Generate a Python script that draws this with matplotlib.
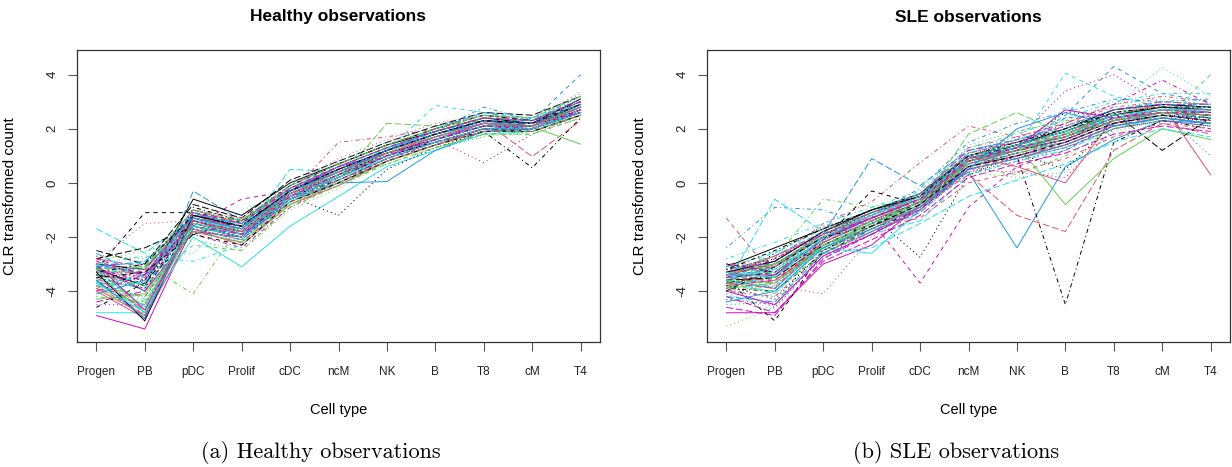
#!/usr/bin/env python3
"""
Parallel line plots (matplot style) of CLR transformed cell type counts,
healthy vs SLE observations.
"""

import matplotlib
matplotlib.use("Agg")
import matplotlib.pyplot as plt

CELL_TYPES = ["Progen", "PB", "pDC", "Prolif", "cDC", "ncM", "NK", "B", "T8", "cM", "T4"]

# one row per observation, values in CELL_TYPES order
HEALTHY = [
    [-3.0, -3.2, -1.2, -1.6, -0.3, 0.4, 1.2, 1.8, 2.3, 2.1, 2.9],
    [-3.6, -4.9, -1.0, -1.5, -0.5, 0.2, 1.0, 1.6, 2.1, 2.0, 2.7],
    [-2.7, -2.8, -1.5, -1.9, -0.6, 0.3, 1.1, 1.7, 2.2, 2.2, 3.0],
    [-3.9, -3.3, -1.8, -2.2, -0.2, 0.6, 1.3, 1.9, 2.4, 2.3, 3.1],
    [-1.7, -2.6, -1.3, -1.9, 0.5, 0.4, 1.0, 1.5, 2.0, 1.9, 2.6],
    [-4.9, -5.4, -1.6, -2.0, -0.7, 0.0, 0.8, 1.4, 1.9, 2.0, 2.6],
    [-3.2, -1.1, -1.1, -1.4, -0.1, 0.7, 1.4, 2.0, 2.5, 2.3, 2.9],
    [-2.9, -1.5, -1.4, -1.7, -0.8, 0.1, 0.9, 1.6, 2.1, 2.1, 2.8],
    [-3.5, -3.0, -4.1, -1.5, -0.6, 0.2, 1.0, 1.5, 2.0, 2.0, 2.5],
    [-3.4, -4.8, -0.3, -1.4, -0.2, 0.6, 1.3, 1.9, 2.3, 2.2, 2.9],
    [-4.8, -4.8, -2.0, -3.1, -1.6, -0.5, 0.6, 1.2, 1.8, 1.9, 2.5],
    [-3.1, -3.3, -1.6, -0.6, -0.3, 0.4, 1.1, 1.7, 2.2, 2.1, 2.8],
    [-3.7, -3.8, -1.1, -1.8, -0.5, -1.2, 0.5, 1.3, 1.9, 2.0, 2.6],
    [-3.3, -3.6, -1.3, -1.6, -0.4, 1.5, 1.7, 2.0, 2.4, 2.3, 3.0],
    [-3.8, -4.2, -1.7, -2.1, -0.7, 0.1, 2.2, 2.1, 2.3, 2.2, 2.8],
    [-3.0, -3.4, -1.5, -1.9, -0.6, 0.0, 0.05, 1.2, 1.9, 2.0, 2.7],
    [-3.6, -3.9, -1.4, -1.8, -0.3, 0.5, 1.2, 2.86, 2.6, 2.4, 3.0],
    [-3.2, -3.5, -1.2, -1.7, -0.4, 0.3, 1.0, 1.6, 0.75, 1.8, 2.5],
    [-3.4, -3.7, -1.6, -2.0, -0.5, 0.3, 1.1, 1.5, 1.9, 0.56, 2.4],
    [-2.8, -3.1, -1.3, -1.6, -0.2, 0.5, 1.2, 1.8, 2.3, 0.97, 2.3],
    [-3.9, -4.5, -1.5, -1.8, -0.6, 0.2, 1.0, 1.7, 2.2, 2.07, 1.43],
    [-3.1, -3.4, -1.0, -1.5, -0.1, 0.6, 1.3, 1.8, 2.3, 2.3, 4.0],
    [-4.2, -2.9, -2.6, -1.0, -0.4, 0.2, 1.0, 1.6, 2.1, 2.2, 3.4],
    [-3.5, -3.3, -1.9, -2.4, -0.9, 0.0, 0.9, 1.4, 2.0, 2.1, 2.6],
    [-2.5, -3.0, -0.8, -1.3, 0.1, 0.8, 1.5, 2.1, 2.6, 2.5, 3.2],
    [-4.0, -5.0, -1.7, -2.3, -0.8, -0.1, 0.8, 1.4, 2.0, 2.0, 2.6],
    [-3.3, -3.2, -1.2, -1.4, -0.4, 0.4, 1.2, 1.8, 2.2, 2.0, 2.7],
    [-3.6, -4.7, -1.4, -1.9, -0.3, 0.4, 1.1, 1.7, 2.1, 2.1, 2.9],
    [-3.0, -2.7, -2.9, -2.3, -0.7, 0.1, 0.9, 1.5, 2.0, 2.1, 2.7],
    [-4.4, -4.0, -1.3, -1.6, -0.5, 0.3, 1.0, 1.7, 2.2, 2.2, 2.9],
    [-3.2, -3.8, -0.6, -1.2, 0.0, 0.7, 1.4, 1.9, 2.4, 2.2, 3.1],
    [-3.8, -4.9, -1.2, -1.7, -0.4, 0.2, 1.0, 1.6, 2.1, 2.0, 2.8],
    [-2.9, -2.5, -2.1, -2.5, -1.0, -0.2, 0.8, 1.3, 1.7, 1.9, 2.5],
    [-3.4, -3.1, -1.5, -1.8, -0.2, 0.5, 1.2, 1.9, 2.8, 2.3, 3.2],
    [-3.7, -3.5, -1.1, -1.6, -0.6, 0.3, 1.3, 1.7, 2.1, 2.4, 2.9],
    [-3.1, -4.0, -1.8, -2.0, -0.3, 0.6, 1.1, 1.6, 2.2, 2.2, 2.6],
    [-4.6, -3.7, -1.9, -1.4, -0.5, 0.1, 0.9, 1.5, 2.0, 1.9, 2.5],
    [-3.3, -3.0, -1.0, -1.5, -0.1, 0.9, 1.6, 2.2, 2.5, 2.4, 3.3],
    [-3.5, -4.4, -1.6, -2.2, -0.7, 0.0, 0.7, 1.3, 1.8, 1.8, 2.4],
    [-2.6, -3.5, -1.4, -1.7, -0.3, 0.4, 1.2, 2.0, 2.6, 2.3, 3.0],
    [-3.2, -4.6, -1.3, -1.8, -0.5, 0.3, 1.0, 1.6, 2.1, 2.0, 2.8],
    [-2.9, -3.4, -1.1, -1.6, -0.3, 0.5, 1.2, 1.8, 2.3, 2.2, 2.9],
    [-3.5, -3.9, -1.5, -2.0, -0.6, 0.2, 0.9, 1.5, 2.0, 2.0, 2.6],
    [-3.8, -3.2, -1.0, -1.3, -0.2, 0.6, 1.3, 1.9, 2.4, 2.3, 3.0],
    [-3.1, -4.8, -1.6, -1.9, -0.4, 0.4, 1.1, 1.7, 2.2, 2.1, 2.7],
    [-4.1, -3.6, -1.2, -1.5, -0.5, 0.3, 1.0, 1.6, 2.1, 2.1, 2.8],
    [-3.4, -2.9, -1.7, -2.1, -0.7, 0.1, 0.9, 1.5, 2.0, 1.9, 2.5],
    [-2.7, -3.7, -1.3, -1.7, -0.3, 0.5, 1.2, 1.8, 2.3, 2.2, 3.1],
    [-3.6, -5.0, -0.9, -1.4, -0.1, 0.7, 1.4, 2.0, 2.5, 2.3, 3.0],
    [-3.3, -3.3, -1.4, -1.8, -0.4, 0.4, 1.1, 1.7, 2.2, 2.1, 2.8],
    [-4.3, -4.1, -1.8, -2.2, -0.8, 0.0, 0.8, 1.4, 1.9, 1.9, 2.5],
    [-3.0, -3.0, -1.2, -1.5, -0.2, 0.6, 1.3, 1.9, 2.4, 2.3, 3.1],
    [-3.7, -4.6, -1.5, -1.9, -0.5, 0.2, 1.0, 1.6, 2.1, 2.0, 2.7],
    [-3.2, -3.6, -1.1, -1.6, -0.4, 0.3, 1.2, 1.8, 2.2, 2.2, 2.9],
    [-2.8, -2.4, -1.6, -2.0, -0.6, 0.2, 1.0, 1.5, 2.0, 2.0, 2.6],
    [-3.9, -4.9, -1.3, -1.7, -0.3, 0.5, 1.2, 1.7, 2.2, 2.1, 2.8],
    [-3.4, -3.8, -2.3, -2.5, -0.9, -0.1, 0.7, 1.3, 1.8, 1.8, 2.4],
    [-3.1, -3.2, -1.0, -1.4, 0.0, 0.8, 1.5, 2.1, 2.5, 2.4, 3.2],
    [-3.5, -4.3, -1.4, -1.7, -0.4, 0.4, 1.1, 1.7, 2.2, 2.1, 2.8],
    [-4.0, -3.4, -1.6, -1.9, -0.5, 0.3, 1.0, 1.6, 2.1, 2.0, 2.7],
    [-3.3, -5.1, -1.2, -1.6, -0.3, 0.5, 1.2, 1.8, 2.3, 2.2, 2.9],
    [-2.9, -3.5, -1.5, -1.8, -0.5, 0.2, 1.0, 1.6, 2.1, 2.1, 2.7],
    [-3.6, -3.1, -1.3, -1.5, -0.2, 0.6, 1.3, 1.9, 2.4, 2.3, 3.0],
    [-3.2, -4.0, -1.7, -2.1, -0.6, 0.1, 0.9, 1.5, 2.0, 2.0, 2.6],
    [-3.8, -3.7, -1.1, -1.6, -0.4, 0.4, 1.1, 1.7, 2.2, 2.2, 2.9],
    [-3.0, -4.7, -1.4, -1.9, -0.5, 0.3, 1.0, 1.6, 2.1, 2.0, 2.7],
    [-3.5, -3.3, -1.9, -2.3, -0.7, 0.0, 0.8, 1.4, 1.9, 1.9, 2.5],
    [-3.3, -3.9, -1.2, -1.4, -0.1, 0.7, 1.4, 2.0, 2.5, 2.3, 3.1],
    [-4.2, -4.4, -1.5, -1.8, -0.4, 0.3, 1.1, 1.7, 2.2, 2.1, 2.8],
    [-3.1, -2.9, -1.3, -1.7, -0.3, 0.5, 1.2, 1.8, 2.3, 2.2, 2.9],
    [-3.7, -4.8, -1.6, -2.0, -0.6, 0.2, 0.9, 1.5, 2.0, 2.0, 2.6],
    [-2.8, -3.4, -1.1, -1.5, -0.2, 0.6, 1.3, 1.9, 2.4, 2.3, 3.0],
    [-3.4, -3.6, -1.4, -1.8, -0.4, 0.3, 1.1, 1.6, 2.1, 2.1, 2.7],
    [-3.9, -4.2, -1.8, -2.2, -0.7, 0.1, 0.8, 1.4, 1.9, 1.9, 2.5],
    [-3.2, -3.1, -1.0, -1.4, -0.1, 0.7, 1.4, 2.0, 2.5, 2.4, 3.2],
    [-3.6, -5.0, -1.3, -1.7, -0.3, 0.4, 1.2, 1.8, 2.2, 2.1, 2.8],
    [-3.0, -3.8, -1.5, -1.9, -0.5, 0.3, 1.0, 1.6, 2.1, 2.0, 2.7],
    [-4.5, -4.5, -1.7, -2.1, -0.6, 0.1, 0.9, 1.5, 2.0, 2.0, 2.6],
    [-3.3, -3.0, -1.2, -1.6, -0.3, 0.5, 1.2, 1.8, 2.3, 2.2, 2.9],
    [-3.5, -4.7, -1.4, -1.8, -0.4, 0.4, 1.1, 1.7, 2.2, 2.1, 2.8],
]

SLE = [
    [-3.4, -3.0, -2.0, -1.3, -0.6, 0.9, 1.3, 1.7, 2.4, 2.7, 2.6],
    [-1.3, -3.5, -2.6, -1.8, -0.9, 0.5, 1.0, 1.4, 2.1, 2.5, 2.3],
    [-5.3, -4.6, -2.1, -1.0, -0.5, 1.1, 1.5, 1.9, 2.5, 2.8, 2.7],
    [-2.4, -0.9, -1.0, -1.6, -1.0, 0.6, 1.1, 1.5, 2.2, 2.5, 2.4],
    [-3.8, -0.6, -1.8, -1.9, -1.4, 0.3, 0.8, 1.2, 2.0, 2.4, 2.2],
    [-4.8, -4.8, -3.0, -2.3, -0.8, 0.7, 1.2, 1.6, 2.3, 2.6, 2.5],
    [-3.6, -5.1, -2.5, -1.6, -0.7, 0.9, 1.3, 1.8, 2.4, 2.7, 2.6],
    [-4.0, -3.8, -4.1, -2.0, -1.1, 0.4, 1.0, 1.5, 2.2, 2.5, 2.4],
    [-3.2, -2.8, -0.6, -0.9, -0.5, 1.0, 1.5, 1.9, 2.6, 2.9, 2.8],
    [-3.5, -3.1, -1.9, 0.9, -0.1, 1.2, 1.6, 2.0, 2.7, 3.0, 2.9],
    [-3.9, -3.4, -2.4, -2.6, -1.0, 0.5, 0.9, 1.3, 2.0, 2.3, 2.1],
    [-3.3, -3.7, -2.2, -1.4, -3.7, -0.9, 0.6, 1.2, 2.2, 2.6, 2.4],
    [-3.7, -2.6, -1.6, -1.2, -2.75, 0.3, 1.0, 1.4, 2.1, 2.4, 2.3],
    [-3.0, -2.9, -1.5, -0.7, 0.75, 2.1, 1.7, 2.2, 2.9, 3.2, 3.0],
    [-3.8, -3.3, -2.3, -1.5, -0.8, 1.8, 2.6, 1.8, 2.5, 2.7, 2.5],
    [-3.6, -3.1, -2.0, -1.3, -0.6, 0.4, -2.4, 0.6, 1.6, 2.3, 2.2],
    [-3.4, -3.6, -2.4, -1.5, -0.7, 0.9, 1.3, 4.05, 3.2, 2.8, 2.6],
    [-3.5, -3.2, -2.1, -1.2, -0.5, 1.0, 1.6, 3.4, 4.0, 2.9, 2.7],
    [-3.9, -4.0, -2.6, -1.7, -1.0, 0.6, 1.0, -4.5, 1.5, 2.3, 2.0],
    [-3.7, -3.5, -2.3, -1.6, -0.9, 0.3, -1.2, -1.8, 1.2, 2.2, 1.8],
    [-3.3, -3.0, -1.9, -1.1, -0.4, 0.8, 1.4, -0.8, 0.9, 2.0, 1.6],
    [-3.6, -3.4, -2.2, -1.4, -0.7, 0.9, 1.3, 2.5, 4.3, 3.3, 3.0],
    [-4.1, -3.8, -2.5, -1.6, -0.8, 0.7, 1.2, 1.7, 2.8, 4.27, 3.2],
    [-3.2, -2.9, -1.8, -1.1, -0.5, 1.1, 1.5, 2.2, 2.9, 3.8, 2.9],
    [-3.5, -3.3, -2.1, -1.3, -0.6, 0.9, 1.4, 1.9, 2.6, 1.2, 2.4],
    [-3.8, -3.6, -2.4, -1.6, -0.9, 0.7, 1.2, 1.8, 2.5, 2.9, 0.3],
    [-3.4, -3.1, -2.2, -1.4, -0.6, 0.8, 1.3, 1.8, 2.4, 2.3, 4.0],
    [-4.5, -4.4, -2.8, -1.8, -0.8, 0.6, 1.1, 1.6, 2.3, 2.6, 1.0],
    [-2.8, -2.2, -1.5, -0.9, -0.3, 1.3, 1.8, 2.4, 3.0, 3.3, 3.3],
    [-4.2, -4.8, -2.9, -2.1, -1.2, 0.2, 0.7, 1.1, 1.8, 2.1, 1.9],
    [-3.1, -2.4, -1.7, -1.0, -0.4, 1.0, 1.4, 2.0, 2.7, 2.9, 2.8],
    [-3.9, -3.0, -2.5, -1.7, -1.3, 0.0, 0.4, 0.9, 1.7, 2.2, 2.0],
    [-3.6, -4.2, -2.3, -1.5, -0.7, 1.4, 1.9, 2.3, 2.9, 3.1, 2.9],
    [-3.3, -3.9, -2.0, -1.2, -0.2, 1.5, 2.2, 2.6, 3.1, 3.0, 3.1],
    [-3.7, -2.5, -2.6, -2.4, -1.5, -0.5, 0.1, 0.7, 1.5, 2.0, 1.7],
    [-4.0, -4.5, -2.7, -1.9, -1.0, 0.5, 0.9, 1.4, 2.1, 2.4, 2.2],
    [-3.0, -3.3, -2.1, -0.3, -0.8, 0.8, 1.3, 1.7, 2.4, 2.6, 2.5],
    [-3.5, -3.7, -2.4, -1.6, -0.9, 1.1, 1.6, 2.1, 2.7, 2.8, 2.7],
    [-4.4, -3.4, -2.0, -1.3, -0.6, 0.6, 0.3, 1.0, 2.0, 2.5, 2.3],
    [-3.3, -2.7, -1.8, -1.1, -0.5, 0.7, 1.2, 1.5, 2.2, 2.6, 2.6],
    [-3.5, -3.2, -2.1, -1.3, -0.6, 0.9, 1.3, 1.7, 2.4, 2.6, 2.5],
    [-3.8, -3.6, -2.4, -1.6, -0.8, 0.7, 1.1, 1.5, 2.2, 2.5, 2.3],
    [-3.2, -2.8, -1.9, -1.1, -0.5, 1.0, 1.4, 2.6, 2.5, 2.7, 2.7],
    [-4.0, -4.2, -2.6, -1.7, -0.9, 0.6, 1.0, 1.4, 2.1, 2.4, 2.2],
    [-3.4, -3.0, -2.0, -1.2, -0.6, 0.8, 1.3, 1.8, 2.4, 2.7, 2.6],
    [-3.6, -3.9, -2.3, -1.5, -0.7, 0.9, 1.2, 1.6, 2.3, 2.6, 2.5],
    [-3.1, -2.6, -1.7, -1.0, -0.4, 1.1, 1.6, 2.0, 2.6, 2.8, 2.8],
    [-4.3, -4.5, -2.7, -1.8, -1.0, 0.5, 0.4, 0.2, 2.0, 2.3, 2.1],
    [-3.7, -3.4, -2.2, -1.4, -0.7, 0.8, 1.2, 1.7, 2.3, 2.6, 2.4],
    [-3.3, -3.1, -2.0, -1.3, -0.5, 1.0, 1.4, 1.8, 2.5, 2.7, 2.7],
    [-3.9, -3.7, -2.4, -1.6, -0.8, 0.6, 1.1, 1.5, 2.2, 2.5, 2.3],
    [-3.5, -2.9, -1.8, -1.1, -0.6, 0.9, 1.3, 2.4, 2.5, 2.8, 2.6],
    [-4.1, -4.7, -2.5, -1.7, -0.9, 0.7, 1.0, 1.4, 2.1, 2.4, 2.2],
    [-3.0, -3.3, -2.1, -1.2, -0.4, 1.2, 1.5, 2.1, 2.7, 2.9, 2.9],
    [-3.6, -3.5, -2.3, -1.5, -0.7, 0.8, 1.2, 1.6, 2.3, 2.6, 2.5],
    [-3.4, -2.7, -1.9, -1.2, -0.5, 1.0, 0.6, 0.0, 2.4, 2.7, 2.6],
    [-3.8, -4.0, -2.6, -1.8, -1.0, 0.5, 0.9, 1.3, 2.0, 2.4, 2.2],
    [-3.2, -3.2, -2.0, -1.1, -0.4, 1.1, 1.5, 2.0, 2.6, 2.8, 2.8],
    [-3.7, -3.8, -2.4, -1.5, -0.8, 0.7, 1.1, 2.8, 2.3, 2.5, 2.4],
    [-4.6, -4.9, -2.8, -1.9, -0.9, 0.6, 1.0, 1.5, 2.2, 2.5, 2.3],
    [-3.3, -2.9, -1.8, -1.0, -0.5, 1.0, 1.4, 1.9, 2.5, 2.8, 2.7],
    [-3.5, -3.6, -2.2, -1.4, -0.6, 0.9, 1.3, 1.7, 2.4, 2.6, 2.5],
    [-3.9, -3.3, -2.5, -1.7, -0.9, 0.4, 0.2, 0.4, 1.9, 2.3, 2.1],
    [-3.1, -3.0, -1.9, -1.2, -0.4, 1.2, 1.6, 2.1, 2.7, 2.9, 2.9],
    [-3.6, -4.1, -2.3, -1.5, -0.7, 0.8, 1.2, 1.7, 2.3, 2.6, 2.4],
    [-3.4, -3.4, -2.1, -1.3, -0.6, 0.9, 1.3, 2.7, 2.4, 2.7, 2.6],
    [-4.0, -3.1, -2.0, -1.6, -0.8, 0.6, 1.0, 1.5, 2.2, 2.5, 2.3],
    [-3.2, -3.8, -2.2, -1.3, -0.5, 1.1, 1.5, 2.0, 2.6, 2.8, 2.7],
    [-3.7, -3.0, -2.4, -1.4, -0.7, 0.7, 1.9, 2.3, 2.3, 2.6, 2.5],
    [-4.2, -4.4, -2.6, -1.8, -1.1, 0.5, 0.9, 1.4, 2.1, 2.4, 2.2],
    [-3.3, -3.5, -2.0, -1.2, -0.5, 1.0, 1.4, 1.9, 2.5, 2.7, 2.7],
    [-3.5, -2.8, -1.9, -1.3, -0.6, 0.8, 1.3, 1.7, 2.4, 2.6, 2.6],
    [-3.8, -4.3, -2.5, -1.6, -0.8, 0.6, 1.1, 0.5, 2.2, 2.5, 2.4],
    [-3.0, -3.1, -1.8, -1.1, -0.4, 1.3, 1.7, 2.2, 2.8, 3.0, 2.9],
    [-3.6, -3.7, -2.3, -1.5, -0.7, 0.8, 1.2, 1.7, 2.3, 2.6, 2.5],
    [-4.4, -4.0, -2.4, -1.7, -0.9, 0.5, 2.0, 2.6, 2.1, 2.4, 2.2],
    [-3.4, -3.3, -2.1, -1.4, -0.6, 0.9, 1.3, 1.8, 2.4, 2.7, 2.6],
    [-3.9, -4.6, -2.7, -1.9, -1.0, 0.4, 0.8, 1.3, 2.0, 2.3, 2.1],
    [-3.2, -2.5, -1.7, -1.0, -0.5, 1.0, 1.5, 2.0, 2.6, 2.8, 2.8],
    [-3.7, -3.9, -2.2, -1.4, -0.7, 0.8, 1.2, 1.6, 2.3, 2.6, 2.5],
]

# R default palette and line types as used by matplot()
R_COLS = ["black", "#DF536B", "#61D04F", "#2297E6", "#28E2E5", "#CD0BBC"]
R_LTYS = ["-", (0, (3, 3)), (0, (0.8, 2.2)), (0, (0.8, 2.2, 3, 2.2)), (0, (5, 2))]

plt.rcParams["font.family"] = ["Liberation Sans", "DejaVu Sans"]
plt.rcParams["lines.scale_dashes"] = False

W, H = 1232, 467


def panel(fig, left_px, rows, title):
    ax = fig.add_axes([left_px / W, 1 - 342 / H, 523 / W, 292 / H])
    x = list(range(1, len(CELL_TYPES) + 1))
    for i, row in enumerate(rows):
        ax.plot(x, row, color=R_COLS[i % 6], linestyle=R_LTYS[i % 5], lw=0.7)

    ax.set_xlim(0.6, 11.4)
    ax.set_ylim(-5.88, 4.91)
    ax.set_xticks(x)
    ax.set_xticklabels(CELL_TYPES)
    ax.set_yticks([-4, -2, 0, 2, 4])
    ax.set_yticklabels(["-4", "-2", "0", "2", "4"], rotation=90, va="center")
    ax.tick_params(axis="both", length=6.5, width=0.8, color="#555555",
                   labelsize=8.5, labelcolor="#222222")
    ax.tick_params(axis="y", labelsize=9.5, pad=7)
    ax.tick_params(axis="x", pad=11)
    for s in ax.spines.values():
        s.set_color("#333333")
        s.set_linewidth(0.9)

    ax.set_xlabel("Cell type", fontsize=10.5)
    ax.xaxis.set_label_coords(0.5, -0.209)
    ax.set_ylabel("CLR transformed count", fontsize=11)
    ax.yaxis.set_label_coords(-60 / 523, 0.5)

    fig.text((left_px + 261.5) / W, 1 - 17 / H, title,
             ha="center", va="center", fontsize=12.5, fontweight="bold")
    return ax


fig = plt.figure(figsize=(W / 100, H / 100), dpi=100)
panel(fig, 77, HEALTHY, "Healthy observations")
panel(fig, 707, SLE, "SLE observations")

fig.text(321 / W, 1 - 453 / H, "(a) Healthy observations", family="cmr10",
         ha="center", va="center", fontsize=16)
fig.text(956 / W, 1 - 453 / H, "(b) SLE observations", family="cmr10",
         ha="center", va="center", fontsize=16)

fig.savefig("out.png", dpi=100)
